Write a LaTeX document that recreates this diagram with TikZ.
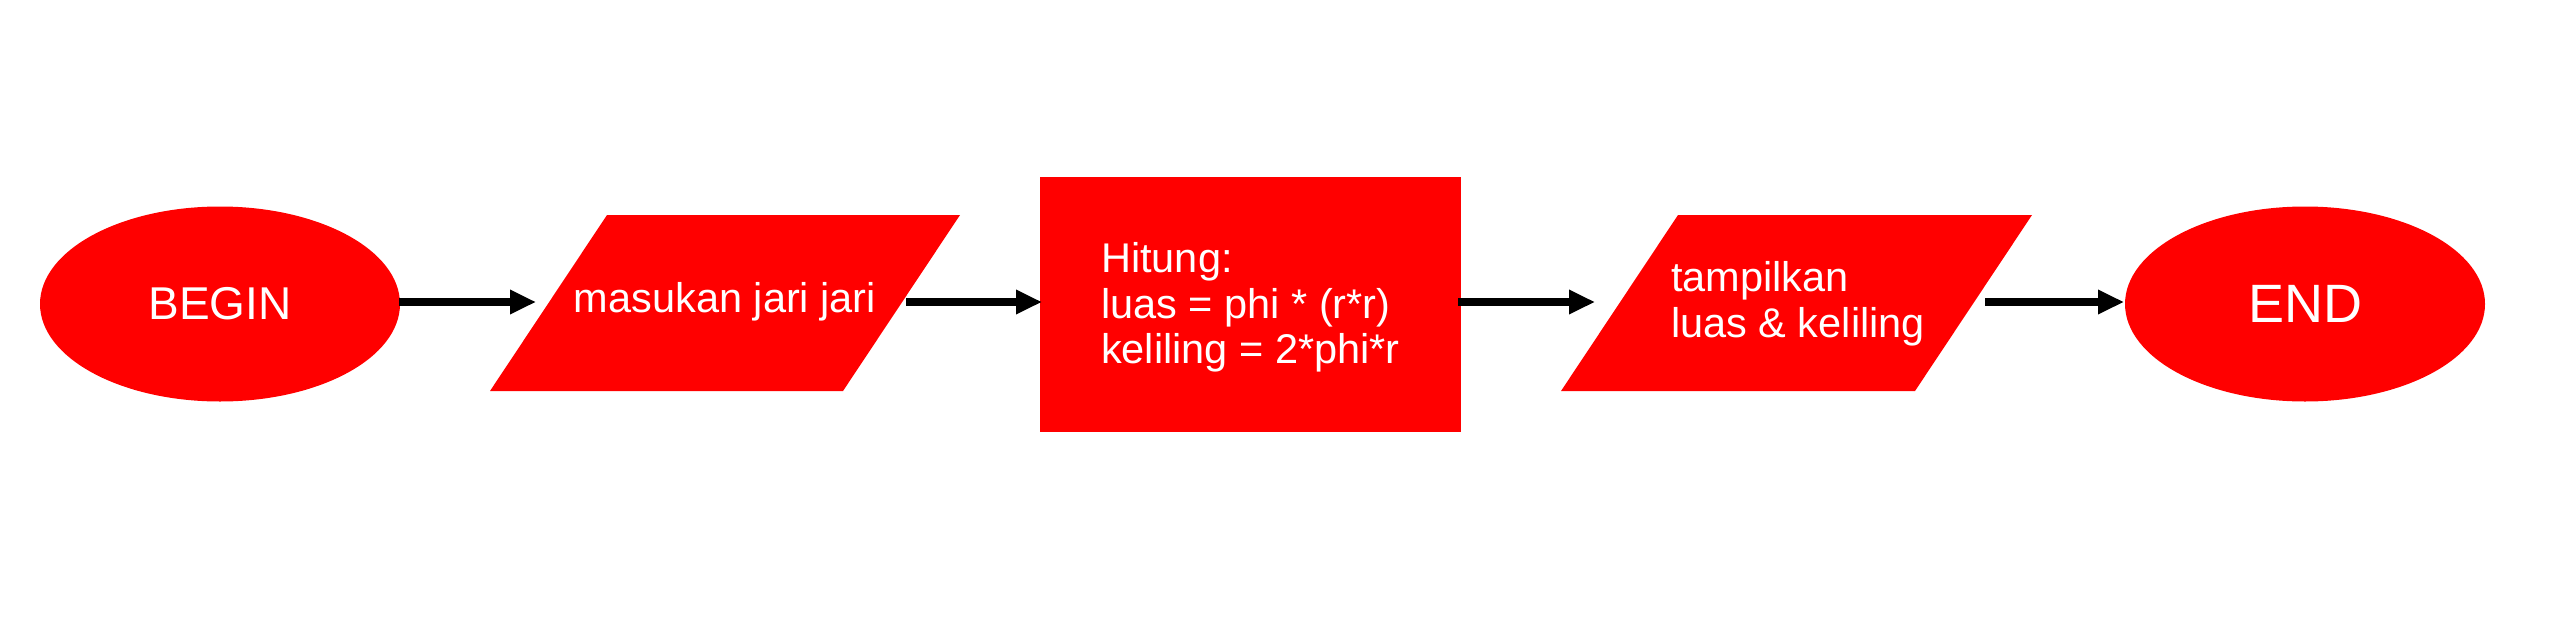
\documentclass[tikz,border=0pt]{standalone}
\usepackage{fontspec}
\setmainfont{Liberation Sans}
\usetikzlibrary{shapes.geometric,arrows.meta}
\definecolor{boxred}{HTML}{FF0000}
\tikzset{
  x=1pt, y=-1pt,
  term/.style={ellipse, fill=boxred, draw=none, minimum width=360pt, minimum height=195pt, inner sep=0pt, text=white},
  procbox/.style={rectangle, fill=boxred, draw=none, minimum width=421pt, minimum height=255pt, inner sep=0pt, text=white},
  iotext/.style={inner sep=0pt, text=white, align=left, font=\fontsize{41.5}{45.5}\selectfont},
  flow/.style={line width=8.5pt, -{Triangle[length=26pt,width=23pt]}},
}
\begin{document}
\begin{tikzpicture}
\useasboundingbox (0,0) rectangle (2553,637);
% start / end
\node[term, font=\fontsize{46}{50}\selectfont] (begin) at (220,304) {BEGIN};
\node[term, font=\fontsize{54}{58}\selectfont] (finish) at (2305,304) {END};
% input parallelogram
\fill[boxred] (607,215) -- (960,215) -- (843,391) -- (490,391) -- cycle;
\node[iotext] (input) at (725,302) {masukan jari jari};
% process
\node[procbox] (proc) at (1250.5,304.5) {};
\node[iotext] (proctext) at (1250.5,307.5) {Hitung:\\luas = phi * (r*r)\\keliling = 2*phi*r};
% output parallelogram
\fill[boxred] (1678,215) -- (2032,215) -- (1915,391) -- (1561,391) -- cycle;
\node[iotext] (output) at (1798,304) {tampilkan\\luas \& keliling};
% connector end points
\coordinate (a1s) at (399,302);
\coordinate (a1e) at (536,302);
\coordinate (a2s) at (906,302);
\coordinate (a2e) at (1042,302);
\coordinate (a3s) at (1458,302);
\coordinate (a3e) at (1595,302);
\coordinate (a4s) at (1985,302);
\coordinate (a4e) at (2124,302);
\draw[flow] (a1s) -- (a1e);
\draw[flow] (a2s) -- (a2e);
\draw[flow] (a3s) -- (a3e);
\draw[flow] (a4s) -- (a4e);
\end{tikzpicture}
\end{document}
